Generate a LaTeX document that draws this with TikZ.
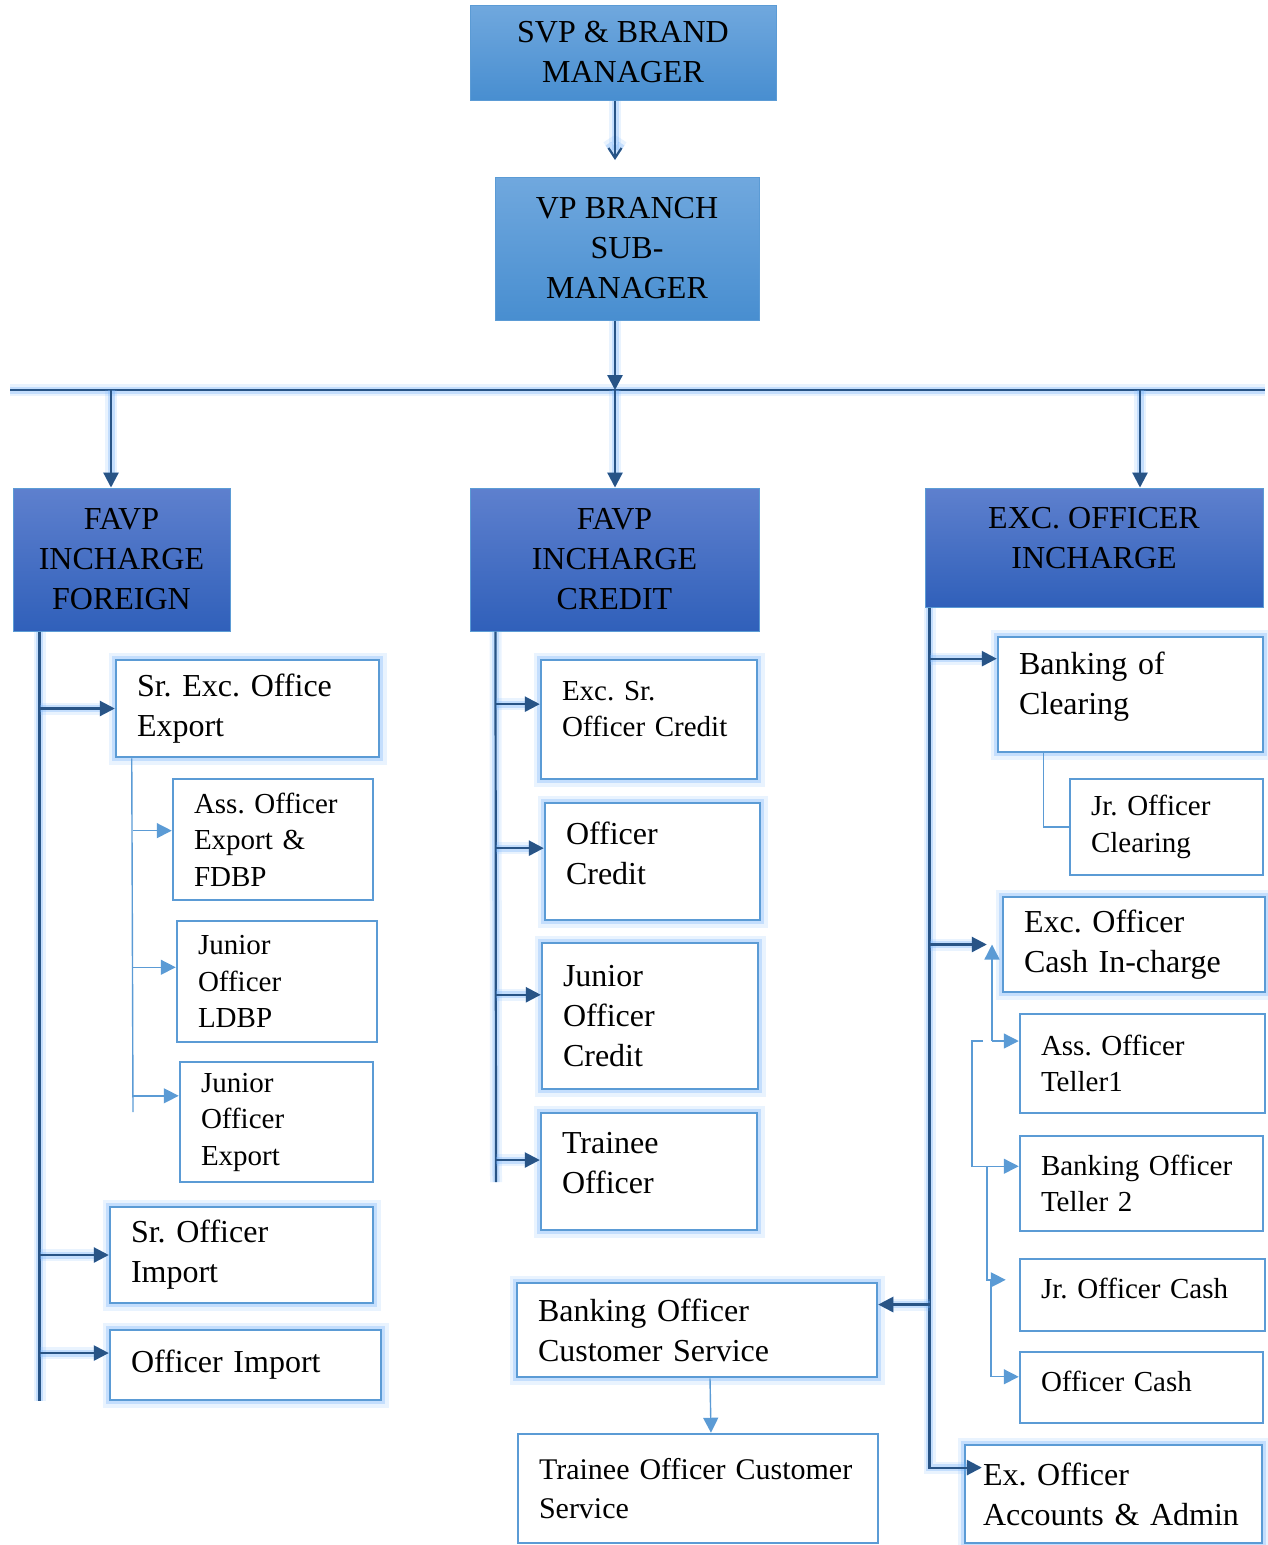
\documentclass[tikz,border=0pt]{standalone}
\usepackage{fontspec}
\setmainfont{Liberation Serif}
\usetikzlibrary{arrows.meta, positioning}
\definecolor{skytop}{RGB}{112,168,222}
\definecolor{skybot}{RGB}{72,142,208}
\definecolor{navytop}{RGB}{94,128,206}
\definecolor{navybot}{RGB}{48,96,186}
\definecolor{rimblue}{RGB}{91,155,213}
\definecolor{darkline}{RGB}{40,84,134}
\definecolor{haze}{RGB}{110,175,250}
\frenchspacing
\tikzstyle{head} = [rectangle, draw=rimblue, line width=1pt, align=center,
    font=\fontsize{32}{40}\selectfont]
\tikzstyle{unit} = [rectangle, draw=rimblue, line width=2.5pt, fill=white,
    align=left, inner xsep=21pt, inner ysep=0pt]

\begin{document}
\begin{tikzpicture}[x=1pt, y=-1pt,
sky/.style = {top color=skytop, bottom color=skybot},
navy/.style = {top color=navytop, bottom color=navybot},
halo/.style = {preaction={draw=haze, line width=15pt, opacity=.15},
    preaction={draw=haze, line width=8pt, opacity=.3}},
big/.style = {font=\fontsize{32}{40}\selectfont},
small/.style = {font=\fontsize{29}{36.5}\selectfont},
dk/.style = {draw=darkline, line width=2.2pt,
    preaction={draw=haze, line width=12pt, opacity=.15},
    preaction={draw=haze, line width=7pt, opacity=.3}},
lt/.style = {draw=rimblue, line width=1.4pt},
tri/.style = {-{Triangle[length=15pt, width=15pt]}}
                        ]
\useasboundingbox (0,0) rectangle (1267,1545);
% top
\node [head, sky, minimum width=306pt, minimum height=95pt] (svp) at (623,52.5) {SVP \& BRAND\\MANAGER};
\node [head, sky, minimum width=264pt, minimum height=143pt] (vp) at (627,248.5) {VP BRANCH\\SUB-\\MANAGER};
% level 2
\node [head, navy, minimum width=217pt, minimum height=143pt] (favpf) at (121.5,559.5) {FAVP\\INCHARGE\\FOREIGN};
\node [head, navy, minimum width=289pt, minimum height=143pt] (favpc) at (614.5,559.5) {FAVP\\INCHARGE\\CREDIT};
\node [head, navy, minimum width=338pt, minimum height=119pt, text depth=20pt] (exci) at (1094,547.5) {EXC. OFFICER\\INCHARGE};
% foreign
\node [unit, halo, big, text width=221pt, minimum height=97pt] (sre) at (247.5,708.5) {Sr. Exc. Office\\Export};
\node [unit, small, text width=158pt, minimum height=121pt] (aoe) at (273,839.5) {Ass. Officer\\Export \&\\FDBP};
\node [unit, small, text width=158pt, minimum height=121pt] (jol) at (277,981.5) {Junior\\Officer\\LDBP};
\node [unit, small, text width=151pt, minimum height=120pt] (joe) at (276.5,1122) {Junior\\Officer\\Export};
\node [unit, halo, big, text width=221pt, minimum height=96pt] (soi) at (241.5,1255) {Sr. Officer\\Import};
\node [unit, halo, big, text width=229pt, minimum height=70pt] (oi) at (245.5,1365) {Officer Import};
% credit
\node [unit, halo, small, text width=174pt, minimum height=119pt, text depth=58pt] (esoc) at (649,719.5) {Exc. Sr.\\Officer Credit};
\node [unit, halo, big, text width=173pt, minimum height=117pt, text depth=56pt] (oc) at (652.5,861.5) {Officer\\Credit};
\node [unit, halo, big, text width=174pt, minimum height=146pt] (joc) at (650,1016) {Junior\\Officer\\Credit};
\node [unit, halo, big, text width=174pt, minimum height=117pt, text depth=58pt] (to) at (649,1171.5) {Trainee\\Officer};
\node [unit, halo, big, text width=318pt, minimum height=94pt] (bocs) at (697,1330) {Banking Officer\\Customer Service};
\node [unit, font=\fontsize{30}{39}\selectfont, text width=318pt, minimum height=109pt] (tocs) at (698,1488.5) {Trainee Officer Customer\\Service};
% incharge
\node [unit, halo, big, text width=223pt, minimum height=115pt, text depth=63pt] (boc) at (1130.5,694.5) {Banking of\\Clearing};
\node [unit, small, text width=151pt, minimum height=96pt] (jocl) at (1166.5,827) {Jr. Officer\\Clearing};
\node [unit, halo, big, text width=220pt, minimum height=95pt] (eoc) at (1134,944.5) {Exc. Officer\\Cash In-charge};
\node [unit, small, text width=203pt, minimum height=99pt] (aot) at (1142.5,1063.5) {Ass. Officer\\Teller1};
\node [unit, small, text width=201pt, minimum height=95pt] (bot) at (1141.5,1183.5) {Banking Officer\\Teller 2};
\node [unit, small, text width=203pt, minimum height=72pt, text depth=13pt] (jocs) at (1142.5,1295) {Jr. Officer Cash};
\node [unit, small, text width=201pt, minimum height=71pt, text depth=12pt] (ocs) at (1141.5,1387.5) {Officer Cash};
\node [unit, halo, big, inner xsep=18pt, text width=261pt, minimum height=98pt] (eoa) at (1113.5,1494) {Ex. Officer\\Accounts \& Admin};

% top arrows
\coordinate (svptip) at (615,160);
\draw[dk, -{Straight Barb[length=10pt, width=13pt]}] ([xshift=-8pt]svp.south) -- (svptip);
\coordinate (busL) at (10,390);
\coordinate (busR) at (1265,390);
\coordinate (busM) at (615,390);
\coordinate (dropL) at (111,390);
\coordinate (dropR) at (1140,390);
\draw[dk] (busL) -- (busR);
\draw[dk, tri] (busM |- vp.south) -- (busM);
\draw[dk, tri] (dropL) -- (dropL |- favpf.north);
\draw[dk, tri] (busM) -- (busM |- favpc.north);
\draw[dk, tri] (dropR) -- (dropR |- exci.north);

% foreign column
\coordinate (ftop) at ([xshift=27pt]favpf.south west);
\draw[dk] (ftop) -- (ftop |- oi.south);
\draw[dk, tri] (ftop |- sre.west) -- (sre.west);
\draw[dk, tri] (ftop |- soi.west) -- (soi.west);
\draw[dk, tri] (ftop |- oi.175) -- (oi.175);
\coordinate (etop) at ([xshift=17pt]sre.south west);
\coordinate (ebot) at (133,1112);
\draw[lt] (etop) -- (ebot);
\draw[lt, tri] (ebot |- aoe.175) -- (aoe.175);
\draw[lt, tri] (ebot |- jol.172) -- (jol.172);
\draw[lt, tri] (ebot |- joe.165) -- (joe.165);

% credit column
\coordinate (ctop) at ([xshift=26pt]favpc.south west);
\coordinate (cbot) at (496,1182);
\draw[dk] (ctop) -- (cbot);
\draw[dk, tri] (ctop |- esoc.172) -- (esoc.172);
\draw[dk, tri] (ctop |- oc.173) -- (oc.173);
\draw[dk, tri] (ctop |- joc.169) -- (joc.169);
\draw[dk, tri] (ctop |- to.174) -- (to.174);
\draw[lt, tri] ([xshift=13pt]bocs.south) -- ([xshift=13pt]tocs.north);

% incharge column
\coordinate (itop) at ([xshift=5pt]exci.south west);
\draw[dk, tri] (itop) -- (itop |- eoa.170) -- ([xshift=18pt]eoa.170);
\draw[dk, tri] (itop |- boc.165) -- (boc.165);
\draw[dk, tri] (itop |- eoc.west) -- ([xshift=-15pt]eoc.west);
\draw[dk, tri] (itop |- bocs.8) -- (bocs.8);
\draw[lt] ([xshift=47pt]boc.south west) |- (jocl.west);
\coordinate (tj) at (992,1041);
\coordinate (tb) at (972,1041);
\coordinate (tc) at (987,1167);
\coordinate (td) at (991,1280);
\draw[lt, tri] (tj) -- (tj |- eoc.west);
\draw[lt, tri] (tj) -- (tj -| aot.west);
\draw[lt, tri] ([xshift=-9pt]tj) -- (tb) |- (bot.172);
\draw[lt, tri] (tc) |- ([xshift=-13pt]jocs.173);
\draw[lt, tri] (td) |- (ocs.175);
\end{tikzpicture}
\end{document}
